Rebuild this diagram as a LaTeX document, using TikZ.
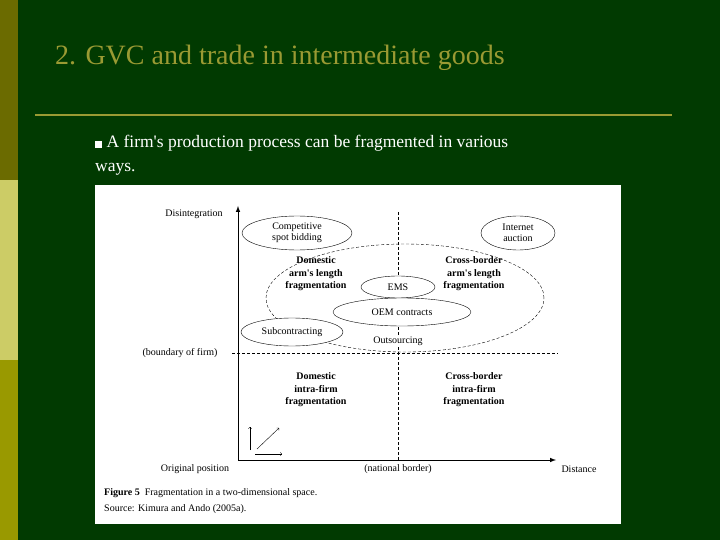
\documentclass[tikz,border=0pt]{standalone}
\usepackage{fontspec}
\newfontfamily\dg{Liberation Serif}
\usetikzlibrary{shapes.geometric}
\definecolor{bgg}{HTML}{013A01}
\definecolor{bar1}{HTML}{6B6B00}
\definecolor{bar2}{HTML}{CCCC66}
\definecolor{bar3}{HTML}{999900}
\definecolor{ttl}{HTML}{9A9A33}
\tikzset{
 el/.style={ellipse,draw,thin,inner sep=0pt},
 dt/.style={font=\dg\fontsize{10}{11.5}\selectfont,align=center},
 db/.style={font=\dg\bfseries\fontsize{10}{12.5}\selectfont,align=center},
 ax/.style={line width=1pt,-latex},
 sm/.style={thin,->}
}
\begin{document}
\begin{tikzpicture}[x=1pt,y=-1pt]
\fill[bgg] (0,0) rectangle (720,540);
\useasboundingbox (0,0) rectangle (720,540);
\fill[bar1] (0,0) rectangle (18,180);
\fill[bar2] (0,180) rectangle (18,360);
\fill[bar3] (0,360) rectangle (18,540);
\node[anchor=west,text=ttl,font=\dg\fontsize{28}{32}\selectfont,inner sep=0pt] (title) at (55,58) {2. GVC and trade in intermediate goods};
\draw[ttl,line width=2.5pt] (35,115) -- (672,115);
\node[anchor=north west,text=white,font=\dg\fontsize{17.5}{24}\selectfont,align=left,inner sep=0pt] (bul) at (95,135) {\rule{7pt}{7pt} A firm's production process can be fragmented in various\\ways.};
\fill[white] (95,185) rectangle (621,524);
% axes
\coordinate (o) at (238,460);
\coordinate (ytop) at (238,206);
\coordinate (xend) at (556,460);
\draw[ax] (o) -- (ytop);
\draw[ax] (o) -- (xend);
\coordinate (nb1) at (398,212); \coordinate (nb2) at (398,460);
\draw[densely dashed,thin] (nb1) -- (nb2);
\coordinate (bf1) at (232,353); \coordinate (bf2) at (558,353);
\draw[densely dashed,thin] (bf1) -- (bf2);
\node[el,densely dashed,minimum width=278,minimum height=108] (big) at (405,298) {};
\node[el,fill=white,minimum width=110,minimum height=34,dt] (comp) at (297,233) {Competitive\\spot bidding};
\node[el,fill=white,minimum width=74,minimum height=34,dt] (inet) at (518,233) {Internet\\auction};
\node[el,fill=white,minimum width=74,minimum height=22,dt] (ems) at (398,287) {EMS};
\node[el,fill=white,minimum width=138,minimum height=28,dt] (oem) at (402,312) {OEM contracts};
\node[el,fill=white,minimum width=102,minimum height=28,dt] (sub) at (292,332) {Subcontracting};
\node[dt] (dis) at (194,214) {Disintegration};
\node[db] (dom) at (316,274) {Domestic\\arm's length\\fragmentation};
\node[db] (cb) at (474,274) {Cross-border\\arm's length\\fragmentation};
\node[dt,fill=white,inner sep=1pt] (out) at (398,341) {Outsourcing};
\node[dt] (bof) at (180,353) {(boundary of firm)};
\node[db] (domi) at (316,390) {Domestic\\intra-firm\\fragmentation};
\node[db] (cbi) at (474,390) {Cross-border\\intra-firm\\fragmentation};
\node[dt] (orig) at (195,469) {Original position};
\node[dt] (nat) at (398,469) {(national border)};
\node[dt] (dist) at (579,469) {Distance};
\coordinate (a1) at (250,450); \coordinate (a2) at (250,427);
\coordinate (b1) at (257,449); \coordinate (b2) at (279,428);
\coordinate (c1) at (255,454); \coordinate (c2) at (282,454);
\draw[sm] (a1) -- (a2);
\draw[sm] (b1) -- (b2);
\draw[sm] (c1) -- (c2);
\node[anchor=west,font=\dg\fontsize{10}{11}\selectfont,inner sep=0pt] (cap) at (104,493) {\textbf{Figure 5}\ \ Fragmentation in a two-dimensional space.};
\node[anchor=west,font=\dg\fontsize{10}{11}\selectfont,inner sep=0pt] (src) at (104,509) {Source: Kimura and Ando (2005a).};
\end{tikzpicture}
\end{document}
